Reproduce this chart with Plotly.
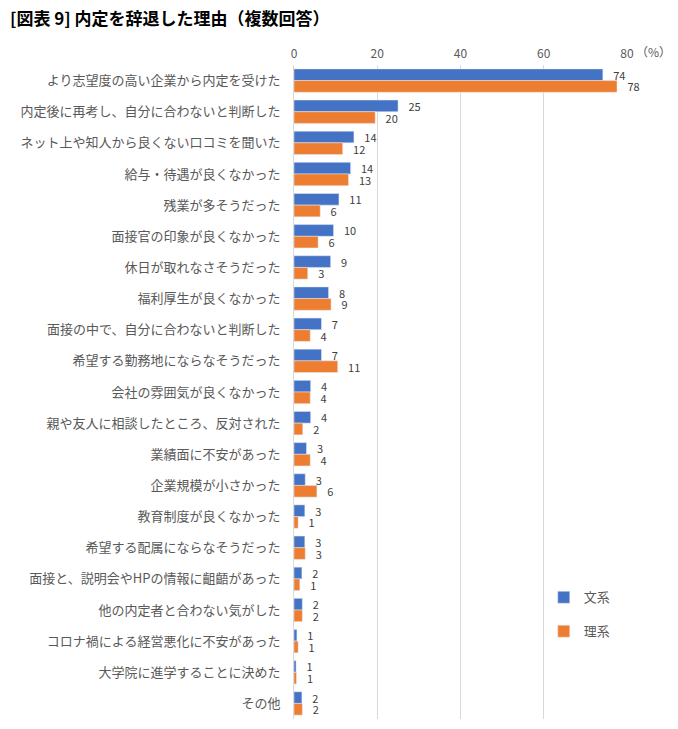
import plotly.graph_objects as go

categories = [
    "より志望度の高い企業から内定を受けた",
    "内定後に再考し、自分に合わないと判断した",
    "ネット上や知人から良くない口コミを聞いた",
    "給与・待遇が良くなかった",
    "残業が多そうだった",
    "面接官の印象が良くなかった",
    "休日が取れなさそうだった",
    "福利厚生が良くなかった",
    "面接の中で、自分に合わないと判断した",
    "希望する勤務地にならなそうだった",
    "会社の雰囲気が良くなかった",
    "親や友人に相談したところ、反対された",
    "業績面に不安があった",
    "企業規模が小さかった",
    "教育制度が良くなかった",
    "希望する配属にならなそうだった",
    "面接と、説明会やHPの情報に齟齬があった",
    "他の内定者と合わない気がした",
    "コロナ禍による経営悪化に不安があった",
    "大学院に進学することに決めた",
    "その他",
]
bunkei = [74.2, 25.0, 14.4, 13.6, 10.8, 9.5, 8.8, 8.3, 6.6, 6.6, 4.0, 4.0, 3.0, 2.7,
          2.6, 2.6, 1.9, 2.0, 0.7, 0.5, 1.9]
rikei = [77.6, 19.5, 11.7, 13.1, 6.3, 5.8, 3.3, 8.9, 3.9, 10.5, 3.9, 2.1, 3.9, 5.5,
         1.0, 2.7, 1.4, 2.0, 1.0, 0.6, 2.0]
bunkei_labels = [74, 25, 14, 14, 11, 10, 9, 8, 7, 7, 4, 4, 3, 3, 3, 3, 2, 2, 1, 1, 2]
rikei_labels = [78, 20, 12, 13, 6, 6, 3, 9, 4, 11, 4, 2, 4, 6, 1, 3, 1, 2, 1, 1, 2]
x_ticks = [0, 20, 40, 60, 80]

FONT = "Noto Sans CJK JP"

fig = go.Figure()
fig.add_trace(go.Bar(
    y=categories, x=bunkei, orientation="h", name="文系",
    marker=dict(color="#4472C4"),
    text=[str(v) for v in bunkei_labels], texttemplate="   %{text}",
    textposition="outside", constraintext="none",
    textfont=dict(size=11, color="#404040", family=FONT),
    cliponaxis=False, legendgroup="a",
))
fig.add_trace(go.Bar(
    y=categories, x=rikei, orientation="h", name="理系",
    marker=dict(color="#ED7D31"),
    text=[str(v) for v in rikei_labels], texttemplate="   %{text}",
    textposition="outside", constraintext="none",
    textfont=dict(size=11, color="#404040", family=FONT),
    cliponaxis=False, legendgroup="b",
))

fig.update_layout(
    width=678, height=729,
    margin=dict(l=294, r=51, t=65, b=10),
    paper_bgcolor="white", plot_bgcolor="white",
    barmode="group", bargap=0.25, bargroupgap=0,
    font=dict(family=FONT, size=13, color="#595959"),
    showlegend=True,
    legend=dict(x=0.75, y=0.209, xanchor="left", yanchor="top",
                font=dict(size=13, color="#595959"), tracegroupgap=14,
                itemwidth=30, bgcolor="rgba(255,255,255,0)"),
    xaxis=dict(range=[0, 80], side="top", tickvals=x_ticks,
               showgrid=True, gridcolor="#D9D9D9", gridwidth=1,
               zeroline=False, showline=False, ticks="", ticklabelstandoff=4,
               tickfont=dict(size=12, color="#595959"), fixedrange=True),
    yaxis=dict(autorange="reversed", showline=True, linecolor="#D9D9D9",
               linewidth=1, ticks="", ticklabelstandoff=10,
               tickfont=dict(size=13, color="#595959")),
    annotations=[
        dict(text="<b>[図表 9] 内定を辞退した理由（複数回答）</b>", xref="paper", yref="paper",
             x=-286/333, y=1 + 47/654, xanchor="left", yanchor="middle",
             showarrow=False, font=dict(size=17, color="#000000", family=FONT)),
        dict(text="（%）", xref="paper", yref="paper", x=1.02, y=1 + 13/654,
             xanchor="left", yanchor="middle", showarrow=False,
             font=dict(size=12, color="#595959", family=FONT)),
    ],
)

fig.write_html("out.html")
